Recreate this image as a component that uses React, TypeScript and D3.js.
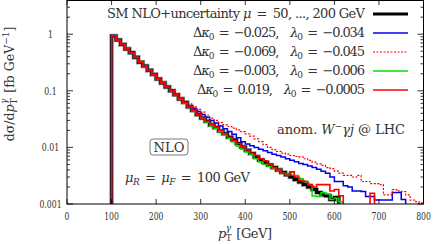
import * as d3 from "d3";

// pT bins of 10 GeV, lower edges
const binEdges = d3.range(100, 800, 10);

// dσ/dpT [fb/GeV] per bin
const smNlo = [0.93, 0.79, 0.66, 0.55, 0.47, 0.39, 0.32, 0.275, 0.23, 0.195, 0.162, 0.138, 0.117, 0.1, 0.085,
  0.072, 0.062, 0.052, 0.045, 0.038, 0.033, 0.029, 0.025, 0.0224, 0.0195, 0.0174, 0.0151, 0.0135, 0.0117, 0.0102,
  0.0089, 0.0078, 0.0068, 0.006, 0.0054, 0.0049, 0.0044, 0.004, 0.0036, 0.0033, 0.003, 0.0027, 0.00245, 0.0022,
  0.002, 0.0018, 0.0016, 0.00145, 0.0014, 0.0012, 0.0013, 0.0009];
const dk025 = [0.93, 0.79, 0.66, 0.55, 0.47, 0.39, 0.32, 0.275, 0.23, 0.195, 0.163, 0.139, 0.118, 0.101, 0.086,
  0.074, 0.063, 0.055, 0.049, 0.043, 0.038, 0.034, 0.03, 0.027, 0.024, 0.0214, 0.019, 0.017, 0.0148, 0.0126,
  0.0115, 0.0107, 0.01, 0.0093, 0.0087, 0.0081, 0.0076, 0.0072, 0.0068, 0.0063, 0.0059, 0.0056, 0.0052, 0.005,
  0.0047, 0.0044, 0.0041, 0.0038, 0.0035, 0.003, 0.0025, 0.0025, 0.0021, 0.002, 0.0017, 0.0017, 0.00166, 0.00135,
  0.00135, 0.00118, 0.00118, 0.00118, 0.00118, 0.0016, 0.0016, 0.0012];
const dk069 = [0.94, 0.79, 0.66, 0.56, 0.47, 0.39, 0.33, 0.28, 0.235, 0.2, 0.166, 0.142, 0.121, 0.104, 0.089,
  0.076, 0.066, 0.059, 0.052, 0.047, 0.042, 0.037, 0.033, 0.03, 0.0275, 0.025, 0.0234, 0.0219, 0.0204, 0.019,
  0.0174, 0.0158, 0.0141, 0.0126, 0.0112, 0.01, 0.0091, 0.0085, 0.0079, 0.0076, 0.0072, 0.0069, 0.0068, 0.0063,
  0.0059, 0.0055, 0.0051, 0.0048, 0.0044, 0.0042, 0.0038, 0.0035, 0.0032, 0.0032, 0.003, 0.0032, 0.0025, 0.0025,
  0.0023, 0.0023, 0.0022, 0.00145, 0.00145, 0.0018, 0.0017, 0.00166, 0.00145, 0.00117, 0.0011, 0.00105];
const dk003 = [0.93, 0.78, 0.66, 0.56, 0.46, 0.39, 0.33, 0.27, 0.23, 0.19, 0.16, 0.137, 0.118, 0.099, 0.084,
  0.072, 0.061, 0.052, 0.044, 0.038, 0.033, 0.028, 0.024, 0.0219, 0.019, 0.0166, 0.0145, 0.0126, 0.0105, 0.0093,
  0.0083, 0.0076, 0.0063, 0.0055, 0.005, 0.0046, 0.0043, 0.0039, 0.0035, 0.0034, 0.0037, 0.0032, 0.0028, 0.0025,
  0.0022, 0.00138, 0.00135, 0.0016, 0.0015, 0.0012, 0.00126, 0.0011];
const dk019 = [0.94, 0.79, 0.66, 0.55, 0.47, 0.39, 0.32, 0.275, 0.23, 0.196, 0.163, 0.139, 0.117, 0.1, 0.086,
  0.073, 0.062, 0.053, 0.045, 0.038, 0.033, 0.029, 0.0257, 0.0229, 0.02, 0.0174, 0.0151, 0.0132, 0.0117, 0.0102,
  0.0091, 0.0079, 0.0072, 0.0063, 0.0058, 0.005, 0.0044, 0.004, 0.0035, 0.0032, 0.0037, 0.003, 0.0026, 0.0025,
  0.0022, 0.002, 0.0022, 0.0022, 0.0022, 0.0017, 0.0018, 0.0014, 0.0008, 0.0008, 0.0008, 0.0008, 0.0008, 0.0008,
  0.00155];

const xTicks = [0, 100, 200, 300, 400, 500, 600, 700, 800];
const yTicks = [0.001, 0.01, 0.1, 1];
const yTickLabels = ["0.001", "0.01", "0.1", "1"];

const W = 435, H = 244;
const x = d3.scaleLinear().domain([0, 800]).range([67, 423.5]);
const y = d3.scaleLog().domain([0.001, 4.02]).range([204, 0]);
const FLOOR = 0.0005;

function stepPath(values: number[]) {
  const pts: [number, number][] = [[binEdges[0], FLOOR]];
  values.forEach((v, i) => pts.push([binEdges[i], Math.max(v, FLOOR)]));
  pts.push([binEdges[0] + values.length * 10, FLOOR]);
  return d3.line<[number, number]>()
    .x(d => x(d[0]))
    .y(d => y(d[1]))
    .curve(d3.curveStepAfter)(pts) || "";
}

const FONT = "'DejaVu Serif', serif";
const EN = "\u2002";
// squeeze the wide serif glyphs of tick labels to the reference footprint
const digitW = 4.9;
const labelLen = (s: string) => s.replace(/\./g, "").length * digitW + (s.match(/\./g) || []).length * 2.6;

function DkLabel({ dk, l0 }: { dk: string; l0: string }) {
  return (
    <>
      Δ<tspan fontStyle="italic">κ</tspan><tspan dy={3} fontSize={9}>0</tspan>
      <tspan dy={-3}>{`${EN}=${EN}${dk},\u2003`}</tspan><tspan fontStyle="italic">λ</tspan>
      <tspan dy={3} fontSize={9}>0</tspan><tspan dy={-3}>{`${EN}=${EN}${l0}`}</tspan>
    </>
  );
}

const series = [
  { key: "dk003", values: dk003, color: "#00e000", width: 1.5, dash: undefined as string | undefined },
  { key: "dk025", values: dk025, color: "#0000ee", width: 1.5, dash: undefined },
  { key: "dk069", values: dk069, color: "#ff0000", width: 1.2, dash: "2,1.5" },
  { key: "dk019", values: dk019, color: "#ff0000", width: 1.6, dash: undefined },
];

const legendRows = [
  { color: "#000", width: 3.2, dash: undefined as string | undefined, len: 258, label: <>SM NLO+uncertainty <tspan fontStyle="italic">μ</tspan>{`${EN}=${EN}50, ..., 200 GeV`}</> },
  { color: "#0000ee", width: 1.5, dash: undefined, len: 172, label: <DkLabel dk="−0.025" l0="−0.034" /> },
  { color: "#ff0000", width: 1.2, dash: "2,1.5", len: 172, label: <DkLabel dk="−0.069" l0="−0.045" /> },
  { color: "#00e000", width: 1.5, dash: undefined, len: 172, label: <DkLabel dk="−0.003" l0="−0.006" /> },
  { color: "#ff0000", width: 1.6, dash: undefined, len: 168, label: <DkLabel dk="0.019" l0="−0.0005" /> },
];
const legendY = [14, 33, 52, 71, 90];

export default function App() {
  const minor: number[] = [];
  for (let e = -3; e <= 0; e++) for (let k = 2; k <= 9; k++) {
    const v = k * Math.pow(10, e);
    if (v < 4.02) minor.push(v);
  }
  const [x0, x1] = x.range();
  const [yb, yt] = y.range();
  return (
    <svg width={W} height={H} style={{ position: "absolute", left: 0, top: 0, background: "#fff", fontFamily: FONT }}
      fontSize={12}>
      <defs>
        <clipPath id="plot"><rect x={x0} y={yt} width={x1 - x0} height={yb - yt} /></clipPath>
      </defs>
      <g clipPath="url(#plot)" fill="none" strokeLinejoin="miter">
        <path d={stepPath(smNlo)} stroke="#a0a0a0" strokeWidth={4.6} />
        <path d={stepPath(smNlo)} stroke="#000" strokeWidth={3} />
        {series.map(s => (
          <path key={s.key} d={stepPath(s.values)} stroke={s.color} strokeWidth={s.width} strokeDasharray={s.dash} />
        ))}
      </g>
      {/* ticks */}
      <g stroke="#000" strokeWidth={0.8}>
        {xTicks.map(t => (
          <g key={t}>
            <line x1={x(t)} x2={x(t)} y1={yb} y2={yb - 5} />
            <line x1={x(t)} x2={x(t)} y1={yt} y2={yt + 5} />
          </g>
        ))}
        {yTicks.map(t => (
          <g key={t}>
            <line x1={x0} x2={x0 + 6} y1={y(t)} y2={y(t)} />
            <line x1={x1} x2={x1 - 6} y1={y(t)} y2={y(t)} />
          </g>
        ))}
        {minor.map(t => (
          <g key={t}>
            <line x1={x0} x2={x0 + 3} y1={y(t)} y2={y(t)} />
            <line x1={x1} x2={x1 - 3} y1={y(t)} y2={y(t)} />
          </g>
        ))}
      </g>
      <rect x={x0} y={yt + 0.5} width={x1 - x0} height={yb - yt - 0.5} fill="none" stroke="#000" strokeWidth={1} />
      {/* tick labels */}
      <g fill="#333" textAnchor="middle" fontSize={11}>
        {xTicks.map(t => (
          <text key={t} x={x(t)} y={220} textLength={labelLen(String(t))} lengthAdjust="spacingAndGlyphs">{t}</text>
        ))}
        {yTicks.map((t, i) => (
          <text key={t} x={50.5} y={y(t) + 4} textLength={labelLen(yTickLabels[i])} lengthAdjust="spacingAndGlyphs">{yTickLabels[i]}</text>
        ))}
      </g>
      {/* axis titles */}
      <text x={218} y={238} fill="#333" fontSize={13} textLength={54} lengthAdjust="spacing" style={{ whiteSpace: "pre" }}>
        <tspan fontStyle="italic">p</tspan><tspan dy={3} fontSize={9}>T</tspan>
        <tspan dx={-5.5} dy={-10} fontSize={9} fontStyle="italic">γ</tspan><tspan dx={2} dy={7}>{" [GeV]"}</tspan>
      </text>
      <text transform="translate(14,84) rotate(-90)" textAnchor="middle" fill="#333" fontSize={12.5} style={{ whiteSpace: "pre" }}>
        dσ/d<tspan fontStyle="italic">p</tspan><tspan dy={3} fontSize={9}>T</tspan>
        <tspan dx={-5.5} dy={-10} fontSize={9} fontStyle="italic">γ</tspan><tspan dx={2} dy={7}>{" [fb GeV"}</tspan>
        <tspan dy={-5} fontSize={9}>−1</tspan><tspan dy={5}>]</tspan>
      </text>
      {/* legend */}
      <g fill="#333" fontSize={13} style={{ whiteSpace: "pre" }}>
        {legendRows.map((r, i) => (
          <g key={i}>
            <text x={365} y={legendY[i] + 4} textAnchor="end" textLength={r.len} lengthAdjust="spacing">{r.label}</text>
            <line x1={373} x2={408} y1={legendY[i]} y2={legendY[i]} stroke={r.color} strokeWidth={r.width} strokeDasharray={r.dash} />
          </g>
        ))}
      </g>
      {/* annotations */}
      <rect x={150} y={139} width={38} height={16} rx={3} fill="none" stroke="#555" strokeWidth={0.8} />
      <text x={169} y={151.5} textAnchor="middle" fill="#333" fontSize={13} textLength={31} lengthAdjust="spacingAndGlyphs">NLO</text>
      <text x={125} y={182} fill="#333" fontSize={13} textLength={125} lengthAdjust="spacing" style={{ whiteSpace: "pre" }}>
        <tspan fontStyle="italic">μ</tspan><tspan dy={3} fontSize={9} fontStyle="italic">R</tspan>
        <tspan dy={-3}>{`${EN}=${EN}`}</tspan><tspan fontStyle="italic">μ</tspan><tspan dy={3} fontSize={9} fontStyle="italic">F</tspan>
        <tspan dy={-3}>{`${EN}=${EN}100 GeV`}</tspan>
      </text>
      <text x={277} y={134} fill="#333" fontSize={13} textLength={128} lengthAdjust="spacing" style={{ whiteSpace: "pre" }}>
        {"anom. "}<tspan fontStyle="italic">W</tspan><tspan dy={-5} fontSize={9}>−</tspan>
        <tspan dy={5} fontStyle="italic">γj</tspan>{" @ LHC"}
      </text>
    </svg>
  );
}
